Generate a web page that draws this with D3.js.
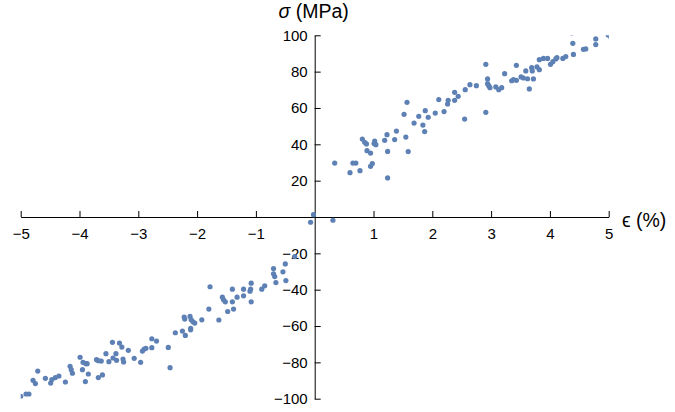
<!DOCTYPE html>
<html lang="en">
<head>
    <meta charset="UTF-8">
    <title>Stress vs strain</title>
    <style>
        body { margin: 0; background: #fff; }
        .tick text { font-family: "Liberation Sans", Arial, sans-serif; font-size: 15px; fill: #000; }
        .axis_label { font-family: "Liberation Sans", Arial, sans-serif; font-size: 19.5px; fill: #000; }
    </style>
    <script src="https://d3js.org/d3.v7.min.js"></script>
</head>
<body>
<svg id="chart" width="675" height="412"></svg>

<script>
    // strain (%) and stress (MPa)
    const strain = [
        -5.00, -4.91, -4.86, -4.79, -4.75, -4.71, -4.58, -4.49, -4.47, -4.41,
        -4.35, -4.24, -4.16, -4.14, -4.12, -3.99, -3.95, -3.94, -3.89, -3.87,
        -3.90, -3.85, -3.71, -3.68, -3.63, -3.68, -3.61, -3.55, -3.50, -3.44,
        -3.43, -3.38, -3.37, -3.32, -3.28, -3.26, -3.25, -3.17, -3.07, -2.96,
        -2.93, -2.90, -2.87, -2.77, -2.77, -2.69, -2.49, -2.46, -2.37, -2.25,
        -2.22, -2.21, -2.20, -2.12, -2.10, -2.11, -2.11, -2.07, -2.04, -1.92,
        -1.80, -1.78, -1.63, -1.57, -1.55, -1.52, -1.48, -1.40, -1.40, -1.38,
        -1.32, -1.21, -1.21, -1.10, -1.09, -1.08, -1.08, -0.90, -0.85, -0.70,
        -0.70, -0.68, -0.66, -0.54, -0.50, -0.49, -0.34,
        -0.07, -0.02, 0.31,
        0.34, 0.60, 0.65, 0.70, 0.77, 0.81, 0.85, 0.88, 0.89, 0.95,
        0.95, 0.98, 1.01, 1.02, 1.04, 1.19, 1.23, 1.24, 1.24, 1.36,
        1.39, 1.52, 1.55, 1.57, 1.59, 1.69, 1.77, 1.84, 1.87, 1.88,
        1.93, 2.05, 2.11, 2.20, 2.26, 2.27, 2.38, 2.38, 2.44, 2.55,
        2.56, 2.64, 2.75, 2.91, 2.91, 2.94, 2.94, 2.96, 2.98, 3.08,
        3.13, 3.18, 3.23, 3.35, 3.38, 3.43, 3.43, 3.51, 3.55, 3.59,
        3.62, 3.65, 3.69, 3.70, 3.72, 3.78, 3.82, 3.82, 3.89, 3.96,
        4.01, 4.05, 4.10, 4.12, 4.22, 4.27, 4.40, 4.39, 4.37, 4.57,
        4.61, 4.78, 4.78, 4.99, 5.03
    ];
    const stress = [
        -98.7, -97.4, -97.4, -89.9, -91.7, -84.8, -88.8, -91.4, -89.5, -88.4,
        -87.5, -90.8, -82.2, -84.0, -86.0, -77.2, -84.0, -80.0, -80.7, -80.7,
        -90.6, -86.4, -78.5, -79.1, -79.3, -88.4, -86.9, -75.2, -79.6, -69.0,
        -77.6, -75.2, -78.9, -69.4, -71.6, -78.2, -79.8, -73.4, -77.8, -80.0,
        -73.8, -72.7, -72.3, -67.0, -71.9, -68.3, -71.8, -82.9, -63.7, -62.8,
        -55.1, -56.2, -65.2, -54.7, -56.6, -61.3, -62.1, -57.7, -58.4, -56.6,
        -50.7, -38.4, -56.7, -44.1, -45.6, -46.7, -52.0, -39.7, -46.7, -50.7,
        -44.1, -43.4, -39.7, -40.8, -39.7, -36.4, -46.7, -39.7, -37.9, -28.4,
        -31.3, -32.8, -36.1, -30.2, -25.8, -35.0, -21.8,
        -2.9, 1.3, -1.8,
        29.7, 24.4, 29.7, 29.7, 25.5, 42.9, 41.1, 40.2, 36.5, 35.2,
        27.9, 29.4, 40.4, 41.8, 39.8, 42.2, 45.3, 36.1, 21.5, 42.6,
        47.3, 56.5, 44.0, 63.1, 36.0, 51.7, 55.4, 50.6, 47.0, 58.5,
        54.9, 57.2, 64.6, 58.0, 62.2, 64.2, 64.2, 68.6, 66.4, 53.9,
        70.1, 72.8, 72.3, 84.0, 57.6, 76.0, 73.4, 72.3, 71.2, 71.6,
        70.1, 71.2, 78.9, 75.0, 75.6, 75.2, 83.5, 77.1, 76.5, 80.4,
        76.1, 70.5, 82.2, 80.4, 76.0, 82.6, 81.1, 86.6, 87.3, 87.3,
        84.0, 85.5, 87.0, 87.7, 87.3, 88.3, 89.5, 95.6, 101.3, 92.3,
        92.5, 94.9, 98.0, 100.2, 99.1
    ];
    const xTicks = [-5, -4, -3, -2, -1, 1, 2, 3, 4, 5];
    const yTicks = [-100, -80, -60, -40, -20, 20, 40, 60, 80, 100];

    const svg = d3.select('#chart');
    const x = d3.scaleLinear().domain([-5, 5]).range([20.7, 608.7]);
    const y = d3.scaleLinear().domain([-100, 100]).range([398.7, 35.3]);

    svg.append('clipPath').attr('id', 'plotclip')
        .append('rect')
        .attr('x', x(-5)).attr('y', y(100))
        .attr('width', x(5) - x(-5)).attr('height', y(-100) - y(100));

    // x axis through y = 0, ticks pointing up
    const xAxis = svg.append('g')
        .attr('transform', 'translate(0,' + y(0) + ')')
        .call(d3.axisBottom(x).tickValues(xTicks).tickSizeInner(-6).tickSizeOuter(0)
            .tickPadding(11).tickFormat(d3.format('')));

    // y axis through x = 0, ticks pointing right
    const yAxis = svg.append('g')
        .attr('transform', 'translate(' + x(0) + ',0)')
        .call(d3.axisLeft(y).tickValues(yTicks).tickSizeInner(-6).tickSizeOuter(0)
            .tickPadding(7).tickFormat(d3.format('')));

    [xAxis, yAxis].forEach(function (ax) {
        ax.selectAll('.domain, .tick line').attr('stroke', '#000').attr('stroke-width', 1);
    });

    svg.append('g')
        .attr('clip-path', 'url(#plotclip)')
        .selectAll('circle')
        .data(strain.map(function (d, i) { return [d, stress[i]]; }))
        .join('circle')
        .attr('cx', function (d) { return x(d[0]); })
        .attr('cy', function (d) { return y(d[1]); })
        .attr('r', 2.6)
        .attr('fill', '#5e81b5');

    const yl = svg.append('text')
        .attr('class', 'axis_label')
        .attr('x', x(0) - 1)
        .attr('y', 18)
        .attr('text-anchor', 'middle');
    yl.append('tspan').attr('font-style', 'italic').text('σ');
    yl.append('tspan').text(' (MPa)');

    svg.append('text')
        .attr('class', 'axis_label')
        .attr('x', 622)
        .attr('y', 227)
        .text('ϵ (%)');
</script>
</body>
</html>
